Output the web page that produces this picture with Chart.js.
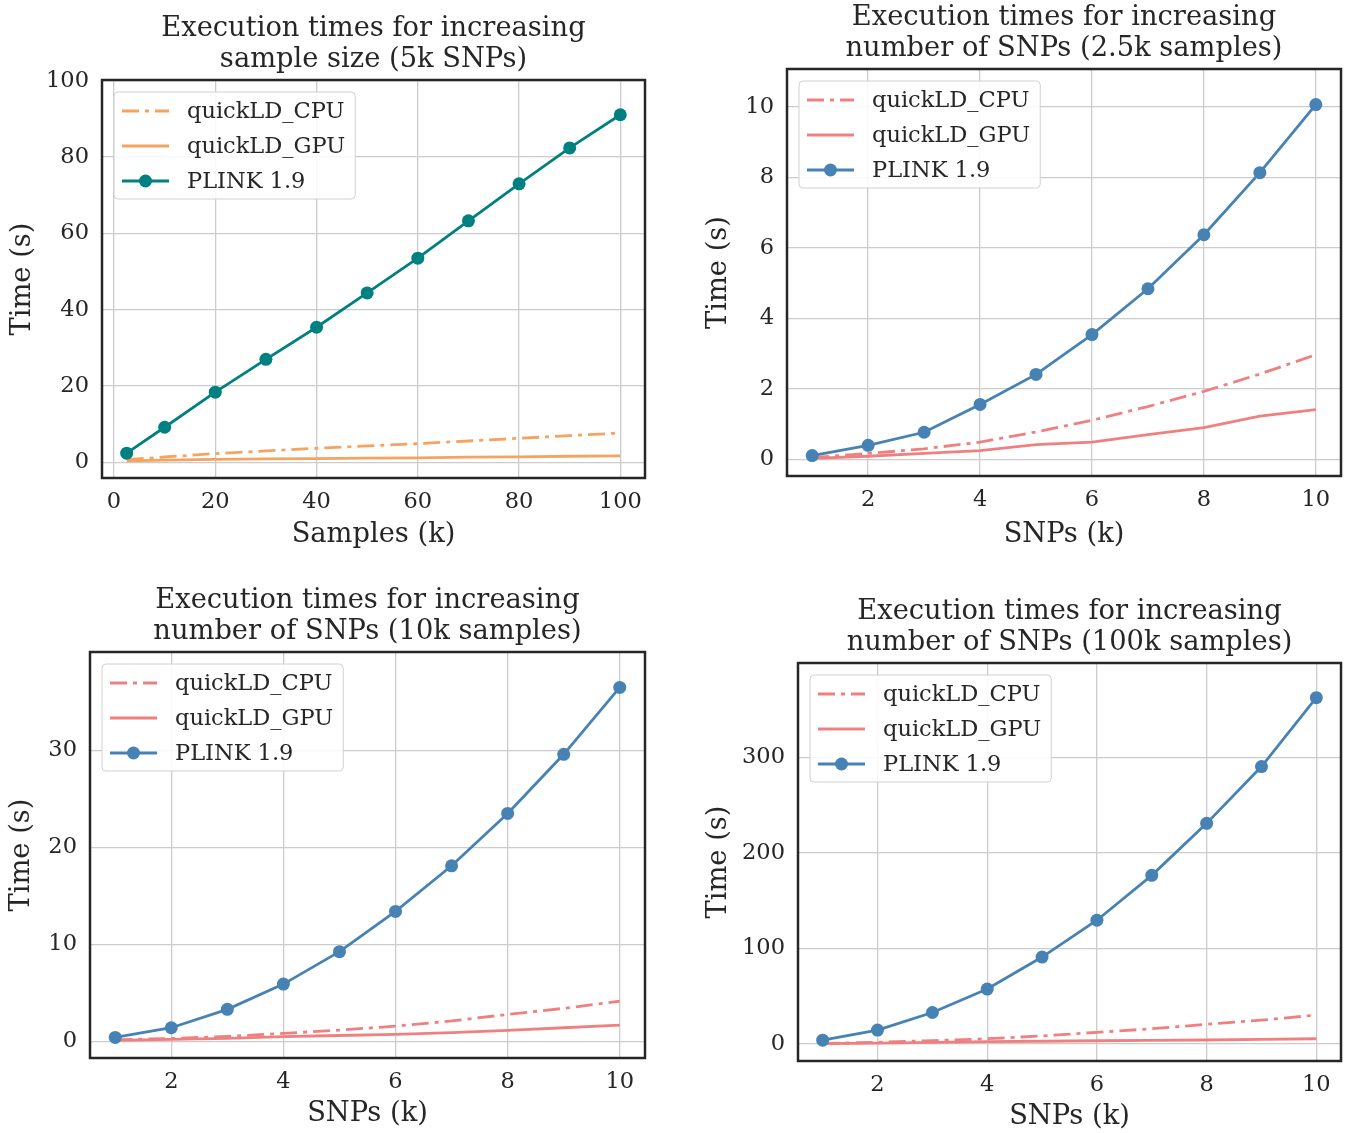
<!DOCTYPE html>
<html lang="en">
<head>
<meta charset="UTF-8">
<title>Execution times: quickLD vs PLINK 1.9</title>
<script src="https://cdn.jsdelivr.net/npm/chart.js"></script>
<style>
  body { margin: 0; background: #ffffff; }
  #wrap { position: relative; width: 1349px; height: 1133px; }
  canvas { position: absolute; }
</style>
</head>
<body>
<div id="wrap">
  <canvas id="c1" width="674" height="560" style="left:0;top:0"></canvas>
  <canvas id="c2" width="675" height="560" style="left:674px;top:0"></canvas>
  <canvas id="c3" width="674" height="573" style="left:0;top:560px"></canvas>
  <canvas id="c4" width="675" height="573" style="left:674px;top:560px"></canvas>
</div>
<script>
// ---- data ----
const samplesK = [2.5, 10, 20, 30, 40, 50, 60, 70, 80, 90, 100];
const s5kCpu   = [0.7, 1.4, 2.3, 3.0, 3.7, 4.3, 4.9, 5.6, 6.3, 7.0, 7.7];
const s5kGpu   = [0.4, 0.6, 0.8, 0.9, 1.0, 1.1, 1.2, 1.35, 1.45, 1.6, 1.7];
const s5kPlink = [2.4, 9.2, 18.4, 27.0, 35.4, 44.4, 53.5, 63.3, 73.0, 82.4, 91.1];

const snpsK = [1, 2, 3, 4, 5, 6, 7, 8, 9, 10];
const n2kCpu   = [0.05, 0.17, 0.30, 0.49, 0.78, 1.11, 1.50, 1.93, 2.42, 2.97];
const n2kGpu   = [0.03, 0.09, 0.17, 0.25, 0.42, 0.49, 0.70, 0.90, 1.23, 1.41];
const n2kPlink = [0.11, 0.40, 0.77, 1.56, 2.41, 3.54, 4.84, 6.37, 8.13, 10.06];

const n10kCpu   = [0.15, 0.3, 0.5, 0.82, 1.15, 1.57, 2.1, 2.77, 3.4, 4.14];
const n10kGpu   = [0.1, 0.2, 0.3, 0.48, 0.6, 0.72, 0.9, 1.13, 1.4, 1.68];
const n10kPlink = [0.4, 1.4, 3.3, 5.9, 9.25, 13.4, 18.1, 23.5, 29.6, 36.5];

const n100kCpu   = [0.5, 1.8, 3.5, 5.5, 8.5, 12.2, 16, 20.6, 25, 30.3];
const n100kGpu   = [0.3, 1, 1.6, 2.4, 2.9, 3.4, 3.8, 4.2, 4.8, 5.5];
const n100kPlink = [4, 14.6, 33, 57.5, 91, 129.6, 176.6, 231, 290.5, 362.6];

const seriesNames = ['quickLD_CPU', 'quickLD_GPU', 'PLINK 1.9'];

const ticks100 = [0, 20, 40, 60, 80, 100];
const ticksSnp = [2, 4, 6, 8, 10];
const ticksY2  = [0, 2, 4, 6, 8, 10];
const ticksY3  = [0, 10, 20, 30];
const ticksY4  = [0, 100, 200, 300];

const FONT = 'DejaVu Serif';
const INK = '#262626';
const GRID = '#cccccc';

// black frame round the plot area
const framePlugin = {
    id: 'frame',
    afterDatasetsDraw(chart) {
        const a = chart.chartArea, ctx = chart.ctx;
        ctx.save();
        ctx.strokeStyle = INK;
        ctx.lineWidth = 2.5;
        ctx.strokeRect(a.left, a.top, a.right - a.left, a.bottom - a.top);
        ctx.restore();
    }
};

// legend box inside the upper-left corner, matplotlib style
const boxLegend = {
    id: 'boxLegend',
    afterDraw(chart) {
        const a = chart.chartArea, ctx = chart.ctx;
        const x = a.left + 12, y = a.top + 12;
        ctx.save();
        ctx.font = '22.5px "' + FONT + '"';
        let tw = 0;
        chart.data.datasets.forEach(ds => { tw = Math.max(tw, ctx.measureText(ds.label).width); });
        const w = 73 + tw + 10, h = 107;
        ctx.beginPath();
        ctx.roundRect(x, y, w, h, 4);
        ctx.fillStyle = 'rgba(255,255,255,0.85)';
        ctx.fill();
        ctx.strokeStyle = '#d0d0d0';
        ctx.lineWidth = 1;
        ctx.stroke();
        chart.data.datasets.forEach((ds, i) => {
            const ry = y + 19 + i * 35;
            ctx.beginPath();
            ctx.setLineDash(ds.borderDash || []);
            ctx.strokeStyle = ds.borderColor;
            ctx.lineWidth = ds.borderWidth;
            ctx.moveTo(x + 8, ry);
            ctx.lineTo(x + 55, ry);
            ctx.stroke();
            ctx.setLineDash([]);
            if (ds.pointRadius > 0) {
                ctx.beginPath();
                ctx.arc(x + 31.5, ry, ds.pointRadius, 0, Math.PI * 2);
                ctx.fillStyle = ds.borderColor;
                ctx.fill();
            }
            ctx.fillStyle = INK;
            ctx.textBaseline = 'middle';
            ctx.fillText(ds.label, x + 73, ry + 1);
        });
        ctx.restore();
    }
};

function pts(xs, ys) {
    return xs.map((x, i) => ({ x: x, y: ys[i] }));
}

function makeChart(id, p) {
    const dash = [17, 6, 4, 6];
    const datasets = [
        { label: seriesNames[0], data: pts(p.xs, p.cpu), borderColor: p.light, borderDash: dash,
          borderWidth: 2.8, pointRadius: 0, order: 2 },
        { label: seriesNames[1], data: pts(p.xs, p.gpu), borderColor: p.light,
          borderWidth: 2.8, pointRadius: 0, order: 1 },
        { label: seriesNames[2], data: pts(p.xs, p.plink), borderColor: p.dark, backgroundColor: p.dark,
          borderWidth: 2.8, pointRadius: 6.5, pointBorderWidth: 0, order: 0 }
    ];
    return new Chart(document.getElementById(id), {
        type: 'line',
        data: { datasets: datasets },
        options: {
            responsive: false,
            animation: false,
            layout: { padding: { top: p.chartTop - 62 - 4.4, right: p.padRight, left: 0, bottom: 0 } },
            plugins: {
                legend: { display: false },
                tooltip: { enabled: false },
                title: {
                    display: true, text: p.title, fullSize: false, color: INK,
                    font: { family: FONT, size: 27.3, weight: 'normal', lineHeight: 31 / 27.3 },
                    padding: { top: 0, bottom: 4.4 }
                }
            },
            scales: {
                x: {
                    type: 'linear', min: p.xMin, max: p.xMax,
                    afterBuildTicks: s => { s.ticks = p.xTicks.map(v => ({ value: v })); },
                    afterFit: s => { s.height = p.xH; },
                    grid: { color: GRID, lineWidth: 1.3, drawTicks: false },
                    border: { display: false },
                    ticks: { color: INK, padding: 11, font: { family: FONT, size: 22.5 } },
                    title: { display: true, text: p.xTitle, color: INK,
                             font: { family: FONT, size: 27.3, lineHeight: 1.2 },
                             padding: { top: 0, bottom: p.xTitlePad } }
                },
                y: {
                    type: 'linear', min: p.yMin, max: p.yMax,
                    afterBuildTicks: s => { s.ticks = p.yTicks.map(v => ({ value: v })); },
                    afterFit: s => { s.width = p.yW; },
                    grid: { color: GRID, lineWidth: 1.3, drawTicks: false },
                    border: { display: false },
                    ticks: { color: INK, padding: 13, font: { family: FONT, size: 22.5 } },
                    title: { display: true, text: 'Time (s)', color: INK,
                             font: { family: FONT, size: 27.3, lineHeight: 1.2 },
                             padding: { top: p.yTitlePad, bottom: 0 } }
                }
            }
        },
        plugins: [framePlugin, boxLegend]
    });
}

makeChart('c1', {
    xs: samplesK, cpu: s5kCpu, gpu: s5kGpu, plink: s5kPlink,
    light: '#f4a460', dark: '#008080',
    title: ['Execution times for increasing', 'sample size (5k SNPs)'],
    xTitle: 'Samples (k)', xMin: -2.375, xMax: 104.875, yMin: -4.1, yMax: 100.2,
    xTicks: ticks100, yTicks: ticks100,
    chartTop: 80, padRight: 29, yW: 102, xH: 82, xTitlePad: 8.5, yTitlePad: 7
});
makeChart('c2', {
    xs: snpsK, cpu: n2kCpu, gpu: n2kGpu, plink: n2kPlink,
    light: '#f08080', dark: '#4682b4',
    title: ['Execution times for increasing', 'number of SNPs (2.5k samples)'],
    xTitle: 'SNPs (k)', xMin: 0.55, xMax: 10.45, yMin: -0.47, yMax: 11.07,
    xTicks: ticksSnp, yTicks: ticksY2,
    chartTop: 69, padRight: 8, yW: 113, xH: 84, xTitlePad: 9, yTitlePad: 29
});
makeChart('c3', {
    xs: snpsK, cpu: n10kCpu, gpu: n10kGpu, plink: n10kPlink,
    light: '#f08080', dark: '#4682b4',
    title: ['Execution times for increasing', 'number of SNPs (10k samples)'],
    xTitle: 'SNPs (k)', xMin: 0.55, xMax: 10.45, yMin: -1.72, yMax: 40.15,
    xTicks: ticksSnp, yTicks: ticksY3,
    chartTop: 652 - 560, padRight: 29, yW: 90, xH: 75, xTitlePad: 3, yTitlePad: 6
});
makeChart('c4', {
    xs: snpsK, cpu: n100kCpu, gpu: n100kGpu, plink: n100kPlink,
    light: '#f08080', dark: '#4682b4',
    title: ['Execution times for increasing', 'number of SNPs (100k samples)'],
    xTitle: 'SNPs (k)', xMin: 0.55, xMax: 10.45, yMin: -17.8, yMax: 398.9,
    xTicks: ticksSnp, yTicks: ticksY4,
    chartTop: 663 - 560, padRight: 8, yW: 124, xH: 72, xTitlePad: 0, yTitlePad: 29
});
</script>
</body>
</html>
